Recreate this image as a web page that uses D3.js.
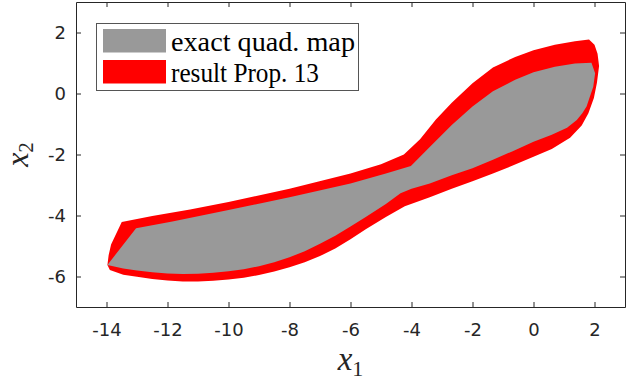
<!DOCTYPE html>
<html>
<head>
<meta charset="utf-8">
<script src="https://cdn.jsdelivr.net/npm/d3@7"></script>
<style>
  body { margin: 0; background: #fff; }
  svg { display: block; }
</style>
</head>
<body>
<div id="chart"></div>
<script>
var W = 644, H = 384;

// tick values
var xTicks = [-14, -12, -10, -8, -6, -4, -2, 0, 2];
var yTicks = [-6, -4, -2, 0, 2];

// outer set (result Prop. 13)
var redX = [-13.97, -13.93, -13.85, -13.50, -12.5, -11.26, -10.0, -8.0, -6.0, -5.0, -4.25,
  -3.72, -3.2, -2.68, -2.0, -1.33, -0.6, 0.0, 0.7, 1.36, 1.82,
  2.0, 2.1, 2.15, 2.08, 1.98, 1.80, 1.58, 1.2, 0.6, 0.0, -0.7,
  -1.33, -2.0, -2.68, -3.4, -4.22, -4.84, -5.5, -6.0, -6.5, -7.0, -7.5, -8.0, -8.5, -9.0,
  -9.5, -10.0, -10.5, -11.0, -11.5, -12.0, -12.5, -13.0, -13.45, -13.89];
var redY = [-5.62, -5.30, -4.95, -4.21, -4.02, -3.80, -3.56, -3.12, -2.62, -2.32, -2.00,
  -1.50, -0.85, -0.30, 0.34, 0.85, 1.20, 1.42, 1.60, 1.71, 1.77,
  1.60, 1.30, 0.90, 0.35, -0.15, -0.65, -1.05, -1.45, -1.82, -2.07, -2.37,
  -2.62, -2.88, -3.12, -3.40, -3.70, -4.05, -4.45, -4.78, -5.08, -5.33, -5.53, -5.70, -5.84, -5.95,
  -6.04, -6.10, -6.14, -6.16, -6.16, -6.13, -6.08, -6.01, -5.94, -5.79];

// exact quadratic map image
var grayX = [-13.97, -13.03, -11.84, -10.0, -8.0, -6.0, -4.84, -4.02,
  -3.5, -2.68, -2.0, -1.33, -0.6, 0.0, 0.7, 1.36, 1.9,
  2.02, 1.96, 1.85, 1.74, 1.6, 1.42, 1.1, 0.6, 0.0, -0.7, -1.33, -2.0, -2.68, -3.4, -4.0, -4.36,
  -4.84, -5.5, -6.0, -6.5, -7.0, -7.5, -8.0, -8.5, -9.0, -9.5, -10.0, -10.5, -11.0, -11.5,
  -12.0, -12.5, -13.0, -13.45];
var grayY = [-5.62, -4.42, -4.20, -3.82, -3.40, -2.95, -2.62, -2.38,
  -1.85, -1.03, -0.43, 0.07, 0.45, 0.70, 0.88, 0.98, 1.01,
  0.66, 0.22, -0.10, -0.43, -0.65, -0.87, -1.12, -1.35, -1.58, -1.90, -2.17, -2.45, -2.68, -2.95, -3.12, -3.27,
  -3.62, -4.05, -4.36, -4.66, -4.93, -5.17, -5.37, -5.53, -5.66, -5.76, -5.83, -5.88, -5.91, -5.92,
  -5.90, -5.86, -5.80, -5.74];

var legendLabels = ["exact quad. map", "result Prop. 13"];
var legendColors = ["#999999", "#ff0000"];

var svg = d3.select("#chart").append("svg")
  .attr("width", W)
  .attr("height", H);

var x = d3.scaleLinear().domain([-15, 3]).range([76, 625]);
var y = d3.scaleLinear().domain([-7, 3]).range([307, 2]);

var line = d3.line()
  .x(function(d) { return x(d[0]); })
  .y(function(d) { return y(d[1]); })
  .curve(d3.curveLinearClosed);

svg.append("path")
  .attr("d", line(d3.zip(redX, redY)))
  .attr("fill", "#ff0000");

svg.append("path")
  .attr("d", line(d3.zip(grayX, grayY)))
  .attr("fill", "#999999");

// axes, ticks pointing inward, box on
var tickCol = "#262626";
function fmt(d) { return String(d); }   // plain hyphen like matlab
function styleAxis(g) {
  g.select(".domain").attr("stroke", tickCol);
  g.selectAll(".tick line").attr("stroke", tickCol);
  g.selectAll(".tick text")
    .attr("fill", tickCol)
    .attr("font-family", "DejaVu Sans")
    .attr("font-size", "18px");
}

svg.append("g")
  .attr("transform", "translate(0," + 307 + ")")
  .call(d3.axisBottom(x).tickValues(xTicks).tickFormat(fmt).tickSizeInner(-5).tickSizeOuter(0).tickPadding(16))
  .call(styleAxis);

svg.append("g")
  .attr("transform", "translate(0," + 2 + ")")
  .call(d3.axisTop(x).tickValues(xTicks).tickSizeInner(-5).tickSizeOuter(0).tickFormat(""))
  .call(styleAxis);

svg.append("g")
  .attr("transform", "translate(" + 76 + ",0)")
  .call(d3.axisLeft(y).tickValues(yTicks).tickFormat(fmt).tickSizeInner(-5).tickSizeOuter(0).tickPadding(10))
  .call(styleAxis);

svg.append("g")
  .attr("transform", "translate(" + 625 + ",0)")
  .call(d3.axisRight(y).tickValues(yTicks).tickSizeInner(-5).tickSizeOuter(0).tickFormat(""))
  .call(styleAxis);

// axis labels
var xl = svg.append("text")
  .attr("x", 350.5)
  .attr("y", 370)
  .attr("text-anchor", "middle")
  .attr("font-family", "Liberation Serif")
  .attr("fill", "#262626");
xl.append("tspan").attr("font-style", "italic").attr("font-size", "33px").text("x");
xl.append("tspan").attr("font-size", "22px").attr("dy", 6).text("1");

var yl = svg.append("text")
  .attr("transform", "translate(28,154.5) rotate(-90)")
  .attr("text-anchor", "middle")
  .attr("font-family", "Liberation Serif")
  .attr("fill", "#262626");
yl.append("tspan").attr("font-style", "italic").attr("font-size", "32px").text("x");
yl.append("tspan").attr("font-size", "21px").attr("dy", 5).text("2");

// legend
var lg = svg.append("g");
lg.append("rect")
  .attr("x", 96.5).attr("y", 23.5)
  .attr("width", 262).attr("height", 67)
  .attr("fill", "#fff")
  .attr("stroke", "#555")
  .attr("stroke-width", 1);

legendLabels.forEach(function(lab, i) {
  lg.append("rect")
    .attr("x", 103).attr("y", 29 + i * 31)
    .attr("width", 63).attr("height", 23.5)
    .attr("fill", legendColors[i]);
  lg.append("text")
    .attr("x", 171).attr("y", 51 + i * 31)
    .attr("font-family", "Liberation Serif")
    .attr("font-size", "27px")
    .attr("fill", "#000")
    .attr("textLength", i == 0 ? 184 : 148)
    .attr("lengthAdjust", "spacingAndGlyphs")
    .text(lab);
});
</script>
</body>
</html>
